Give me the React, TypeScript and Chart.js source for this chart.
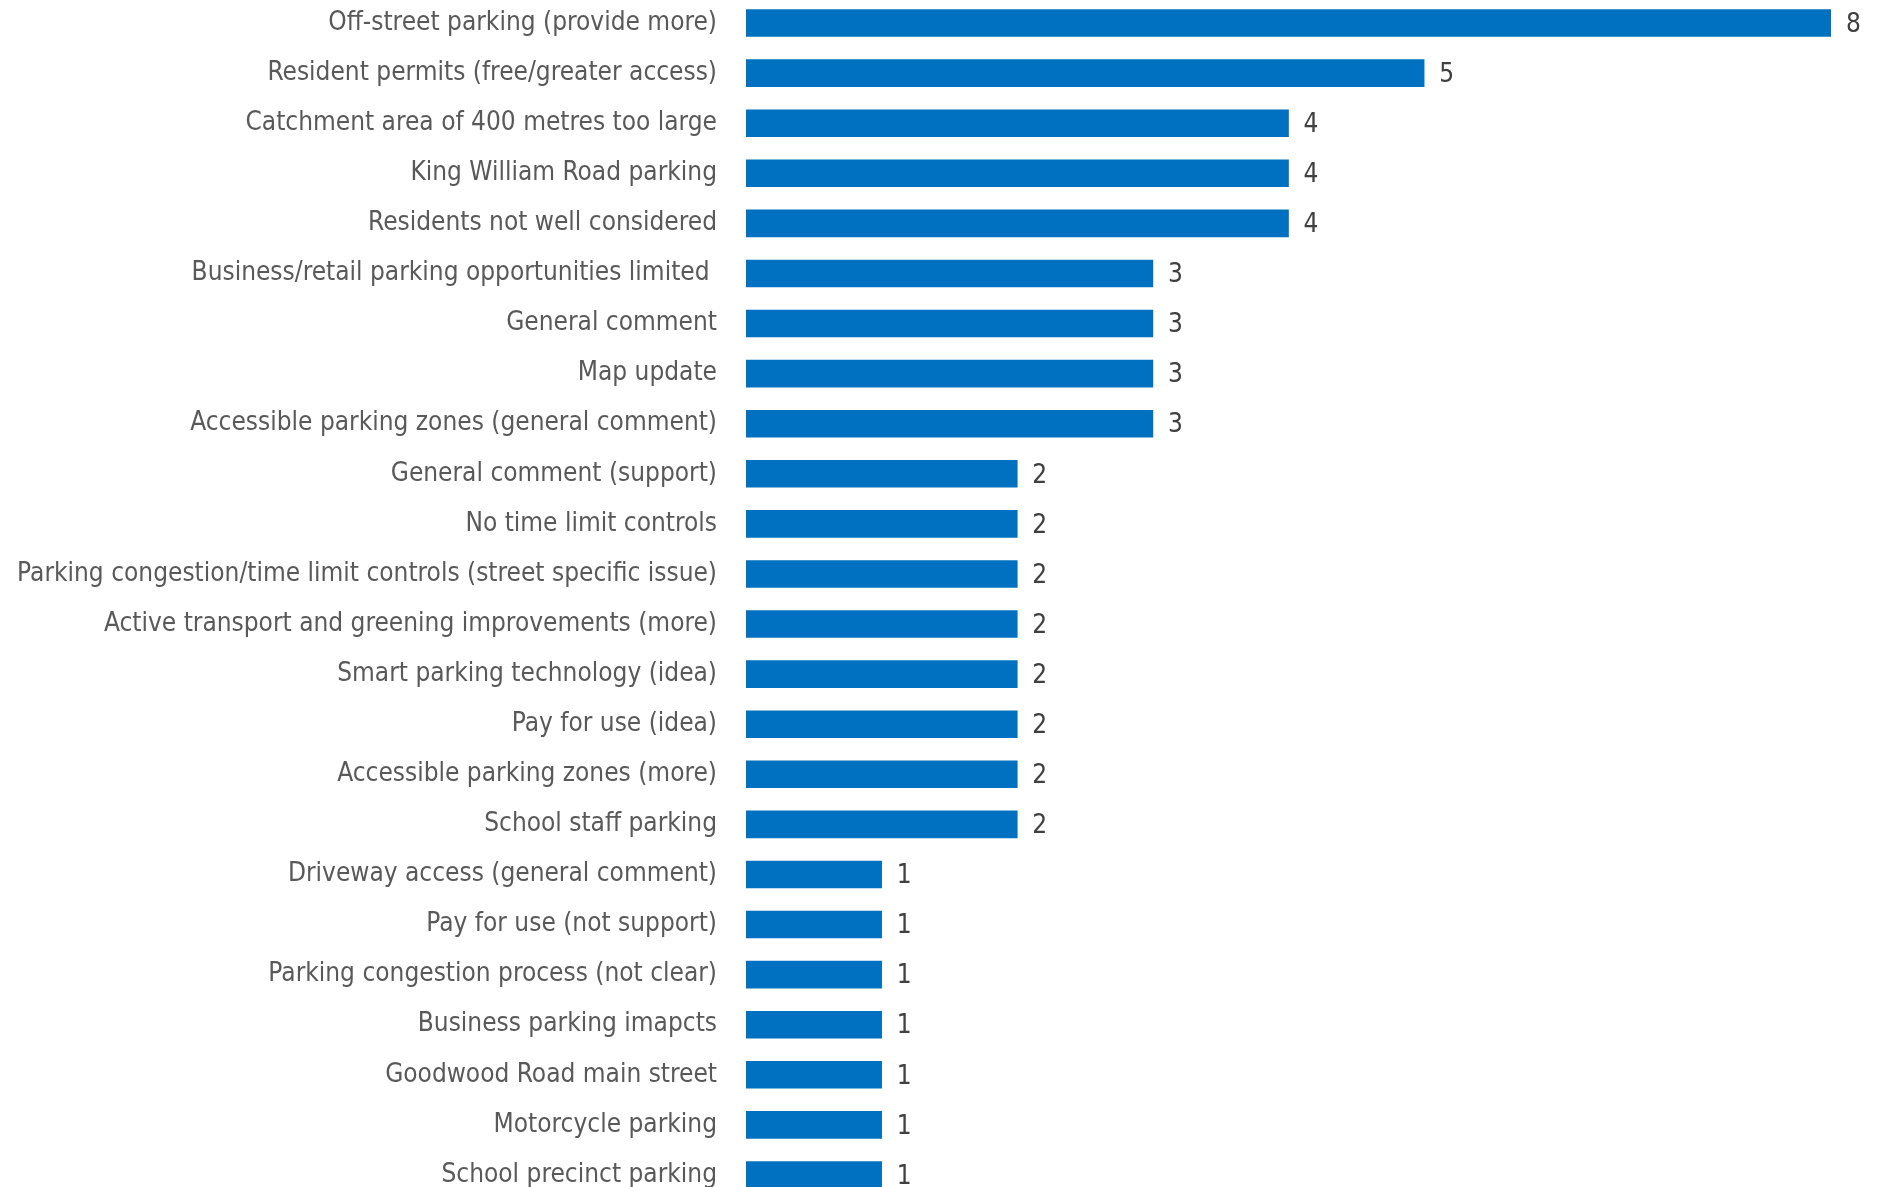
import React, { useEffect, useRef } from "react";
import { Chart, registerables } from "chart.js";

Chart.register(...registerables);

const categories: string[] = [
  "Off-street parking (provide more)",
  "Resident permits (free/greater access)",
  "Catchment area of 400 metres too large",
  "King William Road parking",
  "Residents not well considered",
  "Business/retail parking opportunities limited ",
  "General comment",
  "Map update",
  "Accessible parking zones (general comment)",
  "General comment (support)",
  "No time limit controls",
  "Parking congestion/time limit controls (street specific issue)",
  "Active transport and greening improvements (more)",
  "Smart parking technology (idea)",
  "Pay for use (idea)",
  "Accessible parking zones (more)",
  "School staff parking",
  "Driveway access (general comment)",
  "Pay for use (not support)",
  "Parking congestion process (not clear)",
  "Business parking imapcts",
  "Goodwood Road main street",
  "Motorcycle parking",
  "School precinct parking",
];

const counts: number[] = [8, 5, 4, 4, 4, 3, 3, 3, 3, 2, 2, 2, 2, 2, 2, 2, 2, 1, 1, 1, 1, 1, 1, 1];

const xMin = 0;
const xMax = 8;

const FONT_FAMILY = "'Liberation Sans Narrow', 'DejaVu Sans Condensed', 'Roboto', sans-serif";
const FONT_SIZE = 26;

const valueLabelPlugin = {
  id: "valueLabels",
  afterDatasetsDraw(chart: any) {
    const ctx = chart.ctx;
    const meta = chart.getDatasetMeta(0);
    ctx.save();
    ctx.fillStyle = "#404040";
    ctx.font = `${FONT_SIZE}px ${FONT_FAMILY}`;
    ctx.textAlign = "left";
    ctx.textBaseline = "middle";
    meta.data.forEach((bar: any, i: number) => {
      const v = chart.data.datasets[0].data[i];
      ctx.fillText(String(v), bar.x + 15, bar.y + 2);
    });
    ctx.restore();
  },
};

export default function App() {
  const canvasRef = useRef<HTMLCanvasElement | null>(null);

  useEffect(() => {
    if (!canvasRef.current) return;
    const chart = new Chart(canvasRef.current, {
      type: "bar",
      data: {
        labels: categories,
        datasets: [
          {
            data: counts,
            backgroundColor: "#0070C0",
            borderWidth: 0,
            barThickness: 27,
          },
        ],
      },
      options: {
        indexAxis: "y",
        animation: false,
        responsive: false,
        maintainAspectRatio: false,
        layout: { padding: { left: 0, right: 55, top: 0, bottom: 0 } },
        plugins: {
          legend: { display: false },
          tooltip: { enabled: false },
        },
        scales: {
          x: {
            display: false,
            min: xMin,
            max: xMax,
          },
          y: {
            grid: { display: false, drawTicks: false },
            border: { display: false },
            ticks: {
              color: "#595959",
              padding: 29,
              font: { family: FONT_FAMILY, size: FONT_SIZE },
            },
            afterFit(scale: any) {
              scale.width = 746;
              scale.paddingTop = 0;
              scale.paddingBottom = 0;
            },
          },
        },
      },
      plugins: [valueLabelPlugin],
    });
    return () => chart.destroy();
  }, []);

  return (
    <div
      style={{
        position: "fixed",
        left: 0,
        top: 0,
        width: 1886,
        height: 1187,
        overflow: "hidden",
        background: "#ffffff",
      }}
    >
      <canvas
        ref={canvasRef}
        width={1886}
        height={1202}
        style={{ position: "absolute", left: 0, top: -2, width: 1886, height: 1202 }}
      />
    </div>
  );
}
